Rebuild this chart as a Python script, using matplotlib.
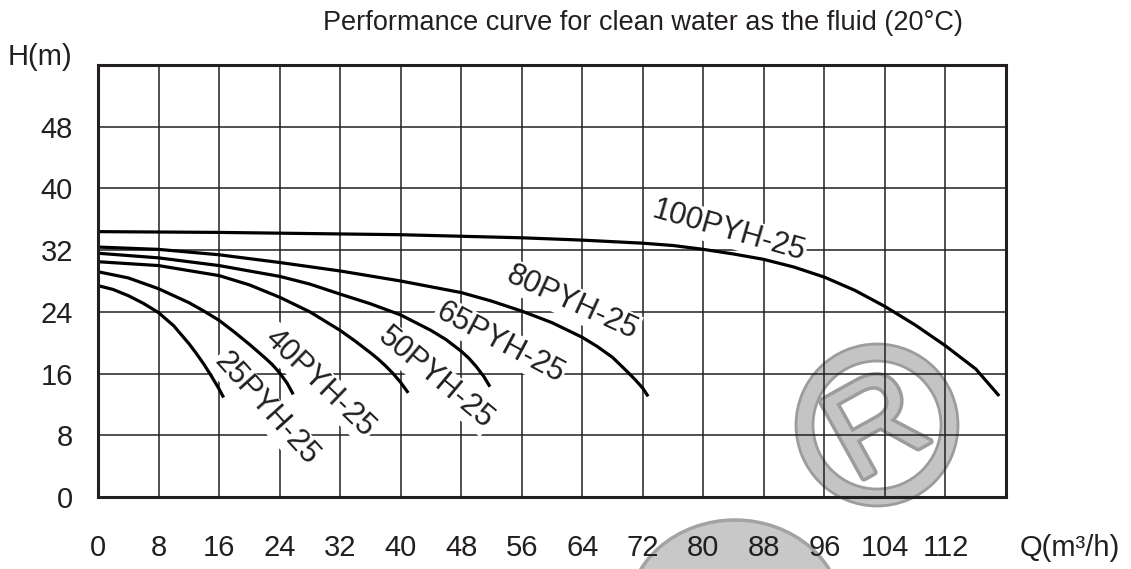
import matplotlib
matplotlib.use("Agg")
import matplotlib.pyplot as plt
from matplotlib.patches import Wedge, Ellipse
import matplotlib.patheffects as pe

plt.rcParams['font.family'] = ['Liberation Sans', 'DejaVu Sans']

# ---------------- data ----------------
q_25 = [0, 2, 4, 6, 8, 10, 12, 13, 14, 15, 16, 16.6]
h_25 = [27.4, 26.9, 26.1, 25.1, 23.9, 22.2, 19.9, 18.6, 17.2, 15.65, 14.0, 12.9]

q_40 = [0, 4, 8, 12, 14, 16, 18, 20, 22, 23, 24, 25, 25.8]
h_40 = [29.2, 28.4, 27.0, 25.2, 24.1, 22.9, 21.4, 19.8, 18.1, 17.2, 16.1, 14.75, 13.3]

q_50 = [0, 8, 16, 20, 24, 28, 32, 34, 36, 37, 38, 39, 40, 41]
h_50 = [30.5, 30.0, 28.7, 27.5, 25.9, 24.0, 21.6, 20.2, 18.7, 17.9, 17.0, 16.0, 14.85, 13.5]

q_65 = [0, 8, 16, 24, 28, 32, 36, 40, 44, 46, 48, 49, 50, 51, 51.8]
h_65 = [31.6, 31.0, 30.0, 28.6, 27.6, 26.3, 25.05, 23.6, 21.6, 20.4, 18.9, 18.0, 16.9, 15.6, 14.3]

q_80 = [0, 8, 16, 24, 32, 40, 48, 52, 56, 60, 64, 66, 68, 70, 71, 72, 72.7]
h_80 = [32.4, 32.1, 31.4, 30.4, 29.3, 28.0, 26.5, 25.4, 24.1, 22.6, 20.7, 19.5, 18.1,
        16.2, 15.2, 14.1, 13.05]

q_100 = [0, 16, 32, 40, 48, 56, 64, 72, 76, 80, 84, 88, 92, 96, 100, 104, 108, 112,
         116, 119.1]
h_100 = [34.4, 34.3, 34.1, 34.0, 33.8, 33.6, 33.3, 32.9, 32.6, 32.1, 31.5, 30.8, 29.8,
         28.5, 26.8, 24.7, 22.3, 19.6, 16.6, 13.1]

series_names = ['25PYH-25', '40PYH-25', '50PYH-25', '65PYH-25', '80PYH-25', '100PYH-25']
series_q = [q_25, q_40, q_50, q_65, q_80, q_100]
series_h = [h_25, h_40, h_50, h_65, h_80, h_100]

x_ticks = [0, 8, 16, 24, 32, 40, 48, 56, 64, 72, 80, 88, 96, 104, 112]
y_ticks = [0, 8, 16, 24, 32, 40, 48]

# label anchor (data coords) and rotation (screen degrees)
label_x = [22.2, 29.3, 44.6, 53.1, 62.6, 83.3]
label_y = [11.4, 14.7, 15.4, 20.0, 25.2, 34.5]
label_rot = [-48, -44, -40, -28, -24.5, -16]

title = "Performance curve for clean water as the fluid (20\u00b0C)"

# ---------------- figure ----------------
W, H = 1131, 569
fig = plt.figure(figsize=(W / 100, H / 100), dpi=100)
fig.patch.set_facecolor('white')

ink = '#231f20'

# watermark layer (pixel coordinates), below the chart
wm = fig.add_axes([0, 0, 1, 1], zorder=0)
wm.set_xlim(0, W)
wm.set_ylim(H, 0)
wm.axis('off')
wm.add_patch(Wedge((877, 425), 81, 0, 360, width=17, facecolor='#c4c4c4',
                   edgecolor='#9c9c9c', lw=2))
wm.text(879, 432, 'R', fontsize=92, rotation=29, color='#c4c4c4', ha='center',
        va='center', path_effects=[pe.withStroke(linewidth=5, foreground='#9c9c9c')])
wm.add_patch(Ellipse((735, 615), 215, 190, facecolor='#c8c8c8', edgecolor='#a3a3a3', lw=2.5))

ax = fig.add_axes([98 / W, (H - 497) / H, 908 / W, 432 / H], zorder=1)
ax.set_facecolor('none')
ax.set_xlim(0, 120)
ax.set_ylim(0, 56)
ax.set_xticks(x_ticks)
ax.set_yticks(y_ticks)
ax.grid(True, color=ink, lw=1.1)
ax.set_axisbelow(True)
ax.tick_params(axis='both', which='both', length=0)
ax.tick_params(axis='x', pad=27, labelsize=21, labelcolor=ink)
ax.tick_params(axis='y', pad=18, labelsize=21, labelcolor=ink)
for s in ax.spines.values():
    s.set_linewidth(2.2)
    s.set_color(ink)
    s.set_zorder(5)

for name, lx, ly, r in zip(series_names, label_x, label_y, label_rot):
    ax.text(lx, ly, name, fontsize=22, rotation=r, rotation_mode='anchor',
            ha='center', va='center', color=ink, zorder=3,
            bbox=dict(facecolor='white', edgecolor='none', pad=1.0))

for q, h in zip(series_q, series_h):
    ax.plot(q, h, color='black', lw=2.3, zorder=4, solid_capstyle='butt',
            solid_joinstyle='round')

fig.text(643 / W, 1 - 23 / H, title, ha='center', va='center', fontsize=19.5, color=ink)
fig.text(8 / W, 1 - 57 / H, 'H(m)', ha='left', va='center', fontsize=21, color=ink)
fig.text(1120 / W, 1 - 548 / H, 'Q(m\u00b3/h)', ha='right', va='center', fontsize=21, color=ink)

fig.savefig('out.png', dpi=100)
